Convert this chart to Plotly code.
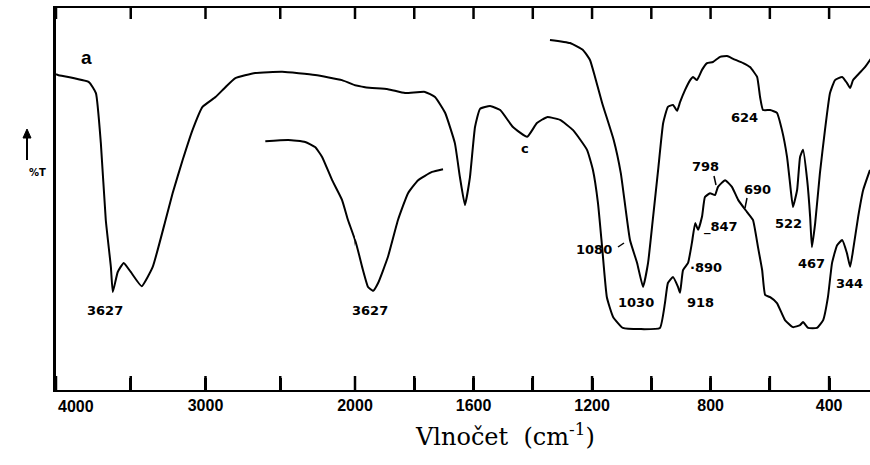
import plotly.graph_objects as go

# ---- data (wavenumber cm-1, transmittance in arbitrary %T units) ----
wn_a = [4000, 3987, 3780, 3733, 3700, 3667, 3633, 3620, 3587, 3547, 3500, 3427, 3353, 3267, 3220, 3153,
        3087, 3020, 2933, 2867, 2800, 2667, 2487, 2267, 2087, 1966, 1889, 1831, 1764, 1730, 1696, 1663,
        1646, 1629, 1612, 1595, 1578, 1544, 1510, 1467, 1419, 1386, 1352, 1308, 1264, 1217, 1197, 1180,
        1166, 1150, 1129, 1096, 1038, 971, 954, 944, 927, 910, 903, 893, 876, 863, 852, 842, 829, 819,
        802, 785, 775, 751, 728, 707, 677, 657, 640, 626, 616, 599, 576, 549, 522, 498, 488, 471, 441,
        420, 404, 390, 373, 356, 340, 329, 319, 302, 285, 262]
t_a = [83.2, 83.0, 81.2, 78.4, 65.7, 46.2, 34.3, 27.9, 33.0, 35.3, 33.0, 29.4, 34.3, 46.2, 53.0, 61.4,
       69.0, 74.9, 77.4, 79.9, 82.2, 83.5, 83.8, 83.0, 81.7, 79.9, 79.4, 78.4, 78.7, 77.4, 73.4, 65.7,
       57.1, 50.0, 57.1, 69.8, 74.4, 75.1, 74.1, 69.8, 67.3, 70.8, 72.3, 71.6, 69.0, 64.0, 58.9, 50.5,
       39.3, 26.6, 21.6, 18.8, 18.5, 18.8, 25.1, 30.2, 31.7, 29.2, 27.7, 33.5, 35.3, 40.4, 45.4, 43.7,
       47.0, 52.0, 53.0, 52.5, 54.6, 56.3, 54.6, 51.3, 48.2, 46.2, 39.3, 33.5, 27.2, 26.6, 25.1, 20.8,
       19.0, 19.5, 20.3, 18.8, 18.8, 20.8, 26.6, 35.3, 39.8, 41.1, 37.8, 34.3, 38.6, 47.0, 53.8, 58.9]

wn_b = [2600, 2447, 2333, 2267, 2220, 2153, 2087, 2047, 2000, 1976, 1956, 1939, 1922, 1889, 1855,
        1821, 1787, 1740, 1703]
t_b = [66.2, 66.5, 66.0, 64.7, 62.2, 56.3, 51.3, 46.2, 41.1, 34.3, 29.2, 28.2, 30.2, 36.8, 46.2,
       53.0, 56.3, 58.4, 59.1]

wn_c = [1342, 1274, 1230, 1207, 1190, 1166, 1127, 1103, 1072, 1048, 1028, 1011, 994, 977, 960, 944,
        927, 913, 903, 886, 869, 859, 846, 829, 812, 792, 768, 744, 724, 690, 667, 643, 633, 623, 599,
        576, 559, 542, 532, 522, 508, 498, 488, 474, 464, 458, 447, 431, 414, 397, 380, 356, 340, 329,
        319, 279, 255]
t_c = [91.9, 91.1, 89.3, 86.8, 82.5, 75.9, 66.5, 58.1, 41.1, 35.3, 29.2, 35.3, 47.0, 58.9, 70.8, 74.9,
       75.4, 73.9, 76.1, 79.2, 81.7, 82.5, 81.7, 84.3, 86.0, 86.3, 87.6, 87.8, 87.1, 86.0, 85.0, 82.5,
       77.4, 74.1, 74.1, 73.4, 69.0, 62.2, 55.6, 49.5, 53.8, 62.2, 64.0, 56.3, 47.0, 39.3, 45.4, 58.1,
       69.0, 78.4, 81.7, 82.5, 81.0, 79.7, 81.7, 85.0, 87.6]

ticks_left = [4000, 3500, 3000, 2500, 2000]
ticks_right = [1800, 1600, 1400, 1200, 1000, 800, 600, 400]
labeled_left = [3000, 2000]
labeled_right = [1600, 1200, 800, 400]

peak_labels = [("3627", 105, 310), ("3627", 370, 310), ("624", 744, 117), ("798", 705, 166),
               ("690", 757, 189), ("_847", 721, 227), ("\u00b7890", 706, 267), ("918", 700, 302),
               ("1030", 636, 302), ("1080", 594, 250), ("522", 788, 223), ("467", 811, 263),
               ("344", 849, 283), ("c", 525, 148)]

# ---- layout geometry (pixels) ----
W, H = 870, 465
L, T, B = 56, 8, 390
PW, PH = W - L, B - T
split = (355 - L) / PW
Y0, Y1 = 3.046, 100.0
R_LEFT = (4000, 2000)
R_RIGHT = (2000, 262)


def P(x, y):
    return (x - L) / PW, (B - y) / PH


fig = go.Figure()
line = dict(color="black", width=2, shape="spline", smoothing=0.4)
for wn, t in [(wn_a, t_a), (wn_b, t_b), (wn_c, t_c)]:
    for xa in ["x", "x2"]:
        fig.add_trace(go.Scatter(x=wn, y=t, mode="lines", line=line, xaxis=xa, yaxis="y",
                                 hoverinfo="skip", showlegend=False))

tickfont = dict(family="Liberation Sans, Arial, sans-serif", size=16, color="black")
axis_common = dict(showline=True, linecolor="black", linewidth=2, mirror=True,
                   ticks="inside", ticklen=12, tickwidth=2.5, tickcolor="black",
                   showgrid=False, zeroline=False, tickfont=tickfont, tickmode="array",
                   anchor="y", automargin=False)

fig.update_layout(
    template="none",
    width=W, height=H, margin=dict(l=L, r=0, t=T, b=H - B, autoexpand=False),
    autosize=False,
    paper_bgcolor="white", plot_bgcolor="white", showlegend=False,
    xaxis=dict(domain=[0, split], range=list(R_LEFT), tickvals=ticks_left,
               ticktext=[f"<b>{v}</b>" if v in labeled_left else "<b> </b>" for v in ticks_left],
               **axis_common),
    xaxis2=dict(domain=[split, 1], range=list(R_RIGHT), tickvals=ticks_right,
                ticktext=[f"<b>{v}</b>" if v in labeled_right else "<b> </b>" for v in ticks_right],
                **axis_common),
    yaxis=dict(range=[Y0, Y1], showline=True, linecolor="black", linewidth=3, showticklabels=False,
               ticks="", showgrid=False, zeroline=False, automargin=False),
)

# inside tick marks also drawn as shapes at the axis-scale positions (bottom 14 px, top 11 px)
for (d0, d1), (r0, r1), vals in [((0, split), R_LEFT, ticks_left), ((split, 1), R_RIGHT, ticks_right)]:
    for v in vals:
        xp = d0 + (d1 - d0) * (r0 - v) / (r0 - r1)
        fig.add_shape(type="line", xref="paper", yref="paper", x0=xp, x1=xp, y0=0, y1=14 / PH,
                      line=dict(color="black", width=2.5), layer="above")
        fig.add_shape(type="line", xref="paper", yref="paper", x0=xp, x1=xp, y0=1, y1=1 - 11 / PH,
                      line=dict(color="black", width=2.5), layer="above")

ann = []
for txt, x, y in peak_labels:
    px, py = P(x, y)
    ann.append(dict(text=f"<b>{txt}</b>", x=px, y=py, xref="paper", yref="paper", showarrow=False,
                    xanchor="center", yanchor="middle",
                    font=dict(family="DejaVu Sans, sans-serif", size=13, color="black")))
# 4000 tick label (left aligned with axis)
ann.append(dict(text="<b>4000</b>", x=4000, xref="x", y=P(0, 406)[1], yref="paper", showarrow=False,
                xanchor="left", yanchor="middle", font=tickfont))
# panel letter
px, py = P(79, 45)
ann.append(dict(text="<b>a</b>", x=px, y=py, xref="paper", yref="paper", showarrow=False,
                font=dict(family="Liberation Sans, Arial", size=19, color="black")))
# %T label
px, py = P(27, 172)
ann.append(dict(text="<b>%T</b>", x=px, y=py, xref="paper", yref="paper", showarrow=False,
                font=dict(family="DejaVu Sans", size=10, color="black")))
# axis title
px, py = P(505, 435)
ann.append(dict(text="Vlnočet  (cm<sup>-1</sup>)", x=px, y=py, xref="paper", yref="paper",
                showarrow=False, xanchor="center", yanchor="middle",
                font=dict(family="DejaVu Serif, Liberation Serif, serif", size=24, color="black")))
fig.update_layout(annotations=ann)

# %T arrow: shaft + head
a0, b0 = P(27, 160)
a1, b1 = P(27, 136)
fig.add_shape(type="line", xref="paper", yref="paper", x0=a0, y0=b0, x1=a1, y1=b1,
              line=dict(color="black", width=2))
h1, k1 = P(23, 138)
h2, k2 = P(27, 129)
h3, k3 = P(31, 138)
fig.add_shape(type="path", xref="paper", yref="paper",
              path=f"M {h1} {k1} L {h2} {k2} L {h3} {k3} Z", fillcolor="black",
              line=dict(color="black", width=1))

# small leader marks next to peak labels
marks = [((618, 247), (624, 243)), ((714, 176), (716, 185)), ((747, 198), (745, 208))]
for (x0, y0), (x1, y1) in marks:
    a0, b0 = P(x0, y0)
    a1, b1 = P(x1, y1)
    fig.add_shape(type="line", xref="paper", yref="paper", x0=a0, y0=b0, x1=a1, y1=b1,
                  line=dict(color="black", width=1.5))

fig.write_html("out.html", config={"responsive": False})
